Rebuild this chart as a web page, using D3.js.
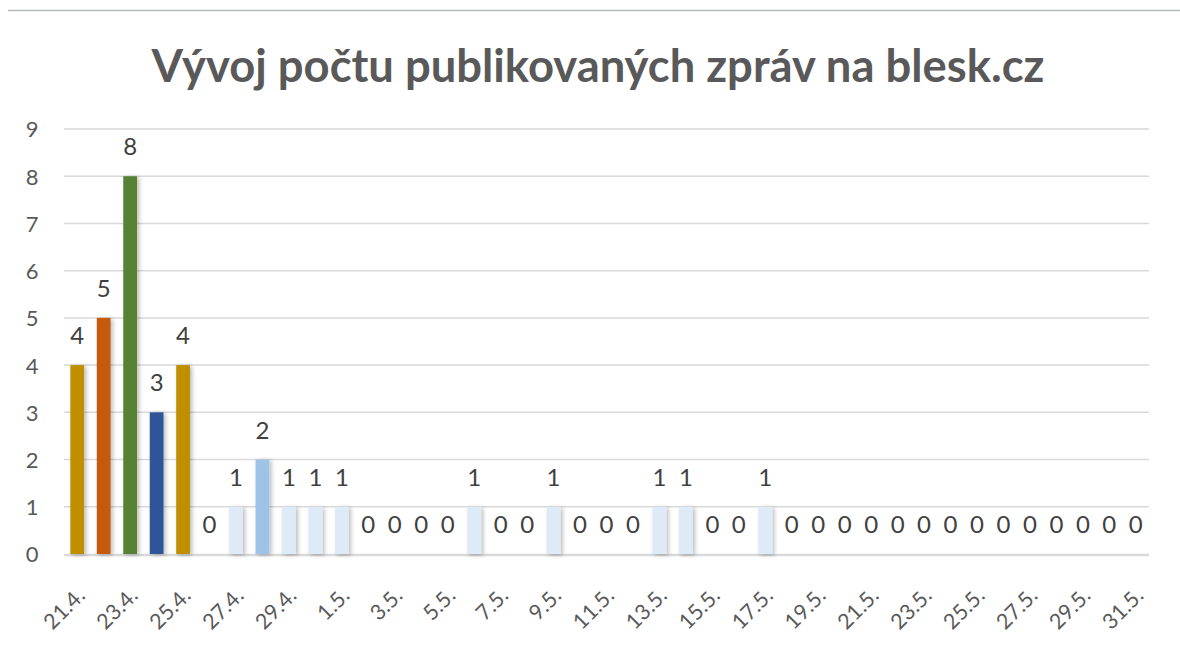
<!DOCTYPE html>
<html><head><meta charset="utf-8">
<script src="https://cdn.jsdelivr.net/npm/d3@7"></script>
<style>html,body{margin:0;padding:0;background:#fff}svg{display:block}</style>
</head><body>
<svg id="c" width="1180" height="648"></svg>
<script>
const title = "Vývoj počtu publikovaných zpráv na blesk.cz";
const categories = ["21.4.","22.4.","23.4.","24.4.","25.4.","26.4.","27.4.","28.4.","29.4.","30.4.",
 "1.5.","2.5.","3.5.","4.5.","5.5.","6.5.","7.5.","8.5.","9.5.","10.5.","11.5.","12.5.","13.5.","14.5.",
 "15.5.","16.5.","17.5.","18.5.","19.5.","20.5.","21.5.","22.5.","23.5.","24.5.","25.5.","26.5.","27.5.",
 "28.5.","29.5.","30.5.","31.5."];
const values = [4,5,8,3,4,0,1,2,1,1,1,0,0,0,0,1,0,0,1,0,0,0,1,1,0,0,1,0,0,0,0,0,0,0,0,0,0,0,0,0,0];
const barColors = ["#BF8F00","#C55A11","#548235","#2F5597","#BF8F00"];
const colorOne = "#DEEBF7", colorTwo = "#9DC3E6";
const yTicks = [0,1,2,3,4,5,6,7,8,9];

const svg = d3.select("#c");
const font = "Lato, 'Open Sans', sans-serif";
const m = {l:64, r:1149, t:129, b:554};

// top border line
svg.append("line").attr("x1",8).attr("x2",1180).attr("y1",10.5).attr("y2",10.5)
  .attr("stroke","#B4B8BF").attr("stroke-width",1.5);

const defs = svg.append("defs");
const f = defs.append("filter").attr("id","sh").attr("x","-50%").attr("y","-10%").attr("width","200%").attr("height","120%");
f.append("feDropShadow").attr("dx",2).attr("dy",1).attr("stdDeviation",2).attr("flood-color","#000").attr("flood-opacity",0.28);

const x = d3.scaleBand().domain(categories).range([m.l, m.r]).paddingInner(0.48).paddingOuter(0.24);
const y = d3.scaleLinear().domain([0,9]).range([m.b, m.t]);

// grid
svg.append("g").selectAll("line").data(yTicks.slice(1)).join("line")
  .attr("x1",m.l).attr("x2",m.r).attr("y1",d=>y(d)).attr("y2",d=>y(d))
  .attr("stroke","#D9D9D9").attr("stroke-width",1.5);
svg.append("line").attr("x1",m.l).attr("x2",m.r).attr("y1",y(0)+1).attr("y2",y(0)+1)
  .attr("stroke","#D9D9D9").attr("stroke-width",2.5);

// y axis labels
const yAxis = d3.axisLeft(y).tickValues(yTicks).tickSize(0).tickPadding(0);
const yg = svg.append("g").attr("transform",`translate(38,0)`).call(yAxis);
yg.select(".domain").remove();
yg.selectAll("text").attr("font-family",font).attr("font-size",22).attr("fill","#595959")
  .attr("text-anchor","middle").attr("dx",-6).attr("dy","0.36em");

// bars
const color = (d,i) => i < barColors.length ? barColors[i] : (d===2 ? colorTwo : colorOne);
svg.append("g").selectAll("rect").data(values).join("rect")
  .attr("x",(d,i)=>x(categories[i])).attr("width",x.bandwidth())
  .attr("y",d=>y(d)).attr("height",d=>y(0)-y(d))
  .attr("fill",(d,i)=>color(d,i)).attr("filter","url(#sh)");

// data labels
svg.append("g").selectAll("text").data(values).join("text")
  .attr("x",(d,i)=>x(categories[i])+x.bandwidth()/2).attr("y",d=>y(d)-21)
  .attr("text-anchor","middle").attr("font-family",font).attr("font-size",24)
  .attr("fill","#404040").text(d=>d);

// x axis labels (every other category)
const xAxis = d3.axisBottom(x).tickValues(categories.filter((c,i)=>i%2===0)).tickSize(0).tickPadding(0);
const xg = svg.append("g").attr("transform",`translate(0,${y(0)})`).call(xAxis);
xg.select(".domain").remove();
xg.selectAll("text").attr("font-family",font).attr("font-size",21.5).attr("fill","#595959")
  .attr("text-anchor","end").attr("dy",0)
  .attr("transform","translate(9,43) rotate(-45)");

// title
const t = svg.append("text").attr("x",598).attr("y",82).attr("text-anchor","middle")
  .attr("font-family",font).attr("font-weight","bold").attr("font-size",44).attr("fill","#595959").text(title);
const w = t.node().getComputedTextLength();
t.attr("font-size", 44*893/w);
</script>
</body></html>
